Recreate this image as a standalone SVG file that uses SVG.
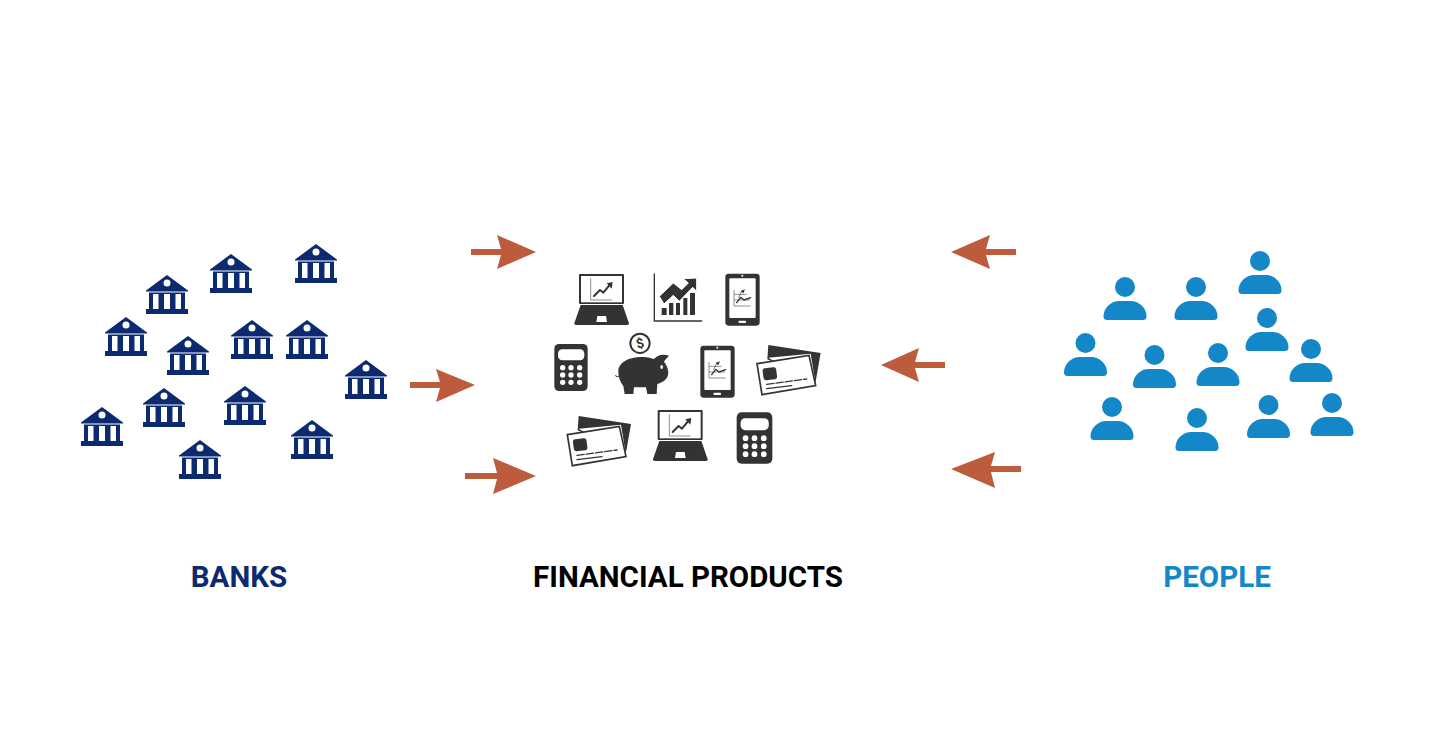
<svg xmlns="http://www.w3.org/2000/svg" width="1456" height="735" viewBox="0 0 1456 735">
<style>
.bank{fill:#0b2a6f}.w{fill:#fff}.person{fill:#1487c8}.arrow{fill:#bc5c3c}
.d{fill:#333}.s{fill:none;stroke:#333;stroke-linecap:round;stroke-linejoin:round}.g{fill:none;stroke:#777;stroke-width:2.5}
text{font-family:Roboto,"Liberation Sans",sans-serif;font-weight:700;font-size:29.500px;text-anchor:middle}
</style>
<defs>
<g id="b">
<path class="bank" d="M0 0L21 15.500V16.500H-21V15.500ZM-18 17.500H18V34H21V39H-21V34H-18Z"/>
<circle class="w" cx="0" cy="8" r="3.500"/>
<path class="w" d="M-14 19H-8.500V34H-14ZM-3 19H3V34H-3ZM8.500 19H14V34H8.500Z"/>
</g>
<g id="p">
<circle class="person" cx="0" cy="0" r="10"/>
<path class="person" d="M-21.500 29.500C-21.500 20 -13 14 -6 14H6C13 14 21.500 20 21.500 29.500C21.500 32 20 33 18 33H-18C-20 33 -21.500 32 -21.500 29.500Z"/>
</g>
<g id="laptop">
<rect class="d" x="87" y="42" width="135" height="90" rx="3"/>
<rect class="w" x="93" y="48" width="123" height="79"/>
<path class="d" d="M92 135H218L237 190Q237 195 232 195H78Q73 195 73 190Z"/>
<path class="w" d="M142 168H168L171 186H139Z"/>
<path class="g" d="M122 55V120H186"/>
<path class="s" stroke-width="6" d="M132 108L150 90L160 98L178 76"/>
<path class="d" d="M170 70L188 66L185 86Z"/>
</g>
<g id="tablet">
<rect class="d" x="526" y="41" width="103" height="156" rx="10"/>
<rect class="w" x="538" y="55" width="79" height="119" rx="3"/>
<circle class="w" cx="577" cy="47" r="3"/>
<rect class="w" x="566" y="182" width="22" height="7" rx="2"/>
<path class="g" stroke-width="1.500" d="M552 90V138H602M552 103H590M552 120H600"/>
<path class="s" stroke-width="4" d="M560 128L572 112L582 120L602 113"/>
<path class="s" stroke-width="2" d="M566 112L576 92"/>
<path class="d" d="M572 93L585 88L580 100Z"/>
</g>
<g id="calc">
<rect class="d" x="13" y="252" width="100" height="141" rx="14"/>
<rect class="w" x="24" y="268" width="79" height="33" rx="13"/>
<g class="w">
<circle cx="38" cy="323" r="8"/><circle cx="63" cy="323" r="8"/><circle cx="89" cy="323" r="8"/>
<circle cx="38" cy="345" r="8"/><circle cx="63" cy="345" r="8"/><circle cx="89" cy="345" r="8"/>
<circle cx="38" cy="367" r="8"/><circle cx="63" cy="367" r="8"/><circle cx="89" cy="367" r="8"/>
</g>
</g>
<g id="cards">
<path class="d" d="M655 255L812 279L795 376L760 340L700 320L652 298Z"/>
<path class="w" d="M655 293L782 281L797 372L790 376Z"/>
<path class="w" stroke="#333" stroke-width="5" d="M621 311L777 286L797 377L636 404Z"/>
<rect class="d" x="639" y="323" width="41" height="36" rx="8" transform="rotate(-7 660 341)"/>
<path class="s" stroke-width="4" stroke-dasharray="22 6" d="M650 373L770 357"/>
<path class="s" stroke-width="4" d="M650 386L725 377"/>
</g>
</defs>
<g id="connectors">
<path class="arrow" d="M471 249H501L497 235L536 252L497 269L501 255H471Z"/>
<path class="arrow" d="M410 382H440L436 369L475 385L436 402L440 388H410Z"/>
<path class="arrow" d="M465 473H497L493 458L536 476L493 494L497 479H465Z"/>
<path class="arrow" d="M1016 249H986L990 235L951 252L990 269L986 255H1016Z"/>
<path class="arrow" d="M945 362H915L919 348L881 365L919 382L915 368H945Z"/>
<path class="arrow" d="M1021 466H991L995 452L951 469L995 488L991 472H1021Z"/>
</g>
<g id="banks">
<use id="bank-1" href="#b" x="231" y="254"/>
<use id="bank-2" href="#b" x="316" y="244"/>
<use id="bank-3" href="#b" x="167" y="275"/>
<use id="bank-4" href="#b" x="126" y="317"/>
<use id="bank-5" href="#b" x="188" y="336"/>
<use id="bank-6" href="#b" x="252" y="320"/>
<use id="bank-7" href="#b" x="307" y="320"/>
<use id="bank-8" href="#b" x="366" y="360"/>
<use id="bank-9" href="#b" x="164" y="388"/>
<use id="bank-10" href="#b" x="245" y="386"/>
<use id="bank-11" href="#b" x="102" y="407"/>
<use id="bank-12" href="#b" x="312" y="420"/>
<use id="bank-13" href="#b" x="200" y="440"/>
</g>
<g id="people">
<use id="person-1" href="#p" x="1125" y="287"/>
<use id="person-2" href="#p" x="1196" y="287"/>
<use id="person-3" href="#p" x="1260" y="261"/>
<use id="person-4" href="#p" x="1267" y="318"/>
<use id="person-5" href="#p" x="1085.500" y="343"/>
<use id="person-6" href="#p" x="1154.500" y="355"/>
<use id="person-7" href="#p" x="1218" y="353"/>
<use id="person-8" href="#p" x="1311" y="349"/>
<use id="person-9" href="#p" x="1112" y="407"/>
<use id="person-10" href="#p" x="1197" y="418"/>
<use id="person-11" href="#p" x="1268.500" y="405"/>
<use id="person-12" href="#p" x="1332" y="403"/>
</g>
<g id="products" transform="translate(550 260) scale(.33333)">
<use id="laptop-1" href="#laptop"/>
<use id="laptop-2" href="#laptop" x="236" y="408"/>
<g id="chart">
<path class="s" stroke-width="4" stroke-linecap="butt" d="M313 42V183H455"/>
<path class="d" d="M335 144H350V165H335ZM357 129H370V165H357ZM378 129H390V165H378ZM400 114H412V165H400ZM420 99H435V165H420Z"/>
<path class="d" stroke="#fff" stroke-width="3" d="M328 109L370 69L395 89L415 69L400 56L440 54L440 94L428 82L388 124L370 106L342 132Z"/>
</g>
<use id="tablet-1" href="#tablet"/>
<use id="tablet-2" href="#tablet" x="-75" y="216"/>
<use id="calc-1" href="#calc"/>
<use id="calc-2" href="#calc" transform="matrix(1.07 0 0 1.092 546.09 181.8)"/>
<g id="piggy">
<circle class="s" stroke-width="6" cx="270" cy="250" r="29" style="fill:#fff"/>
<text x="270" y="264" transform="rotate(-15 270 250)" style="font-size:40px;fill:#333">$</text>
<path class="d" d="M205 335C205 305 240 290 280 291C295 291 305 295 312 297C322 285 340 281 357 287C352 293 345 299 342 305C352 318 358 335 353 348C348 362 335 368 322 372L320 402H292L288 382H252L250 402H224L220 378C210 365 205 350 205 335Z"/>
<ellipse class="w" cx="335" cy="321" rx="4" ry="6"/>
<path class="s" stroke-width="3" d="M206 349C198 352 194 348 198 345"/>
</g>
<use id="cards-1" href="#cards"/>
<use id="cards-2" href="#cards" x="-569" y="213"/>
</g>
<g id="labels">
<text x="239" y="587" fill="#0b2a6f">BANKS</text>
<text x="688" y="587" fill="#000">FINANCIAL PRODUCTS</text>
<text x="1217" y="587" fill="#1487c8">PEOPLE</text>
</g>
</svg>
